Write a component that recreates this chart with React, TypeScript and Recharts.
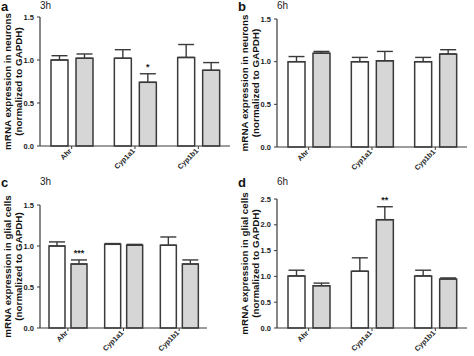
import React from "react";
import { BarChart, Bar, XAxis, YAxis, ErrorBar, LabelList } from "recharts";

const genes = ["Ahr", "Cyp1a1", "Cyp1b1"];

// panel a: neurons 3h
const aCtrl = [1.0, 1.02, 1.03];
const aCtrlErr = [0.05, 0.1, 0.15];
const aTreat = [1.02, 0.74, 0.88];
const aTreatErr = [0.05, 0.1, 0.09];
const aSig = ["", "*", ""];

// panel b: neurons 6h
const bCtrl = [1.0, 1.0, 1.0];
const bCtrlErr = [0.06, 0.05, 0.05];
const bTreat = [1.1, 1.01, 1.09];
const bTreatErr = [0.02, 0.11, 0.05];
const bSig = ["", "", ""];

// panel c: glial cells 3h
const cCtrl = [1.0, 1.02, 1.01];
const cCtrlErr = [0.05, 0.01, 0.1];
const cTreat = [0.78, 1.01, 0.78];
const cTreatErr = [0.05, 0.01, 0.05];
const cSig = ["***", "", ""];

// panel d: glial cells 6h
const dCtrl = [1.01, 1.1, 1.01];
const dCtrlErr = [0.11, 0.26, 0.11];
const dTreat = [0.82, 2.1, 0.95];
const dTreatErr = [0.05, 0.25, 0.02];
const dSig = ["", "**", ""];

const ticks15 = [0, 0.5, 1.0, 1.5];
const ticks25 = [0, 0.5, 1.0, 1.5, 2.0, 2.5];

const FONT = "'Liberation Sans', Arial, sans-serif";
const INK = "#3a3a3a";

const build = (ctrl: number[], ce: number[], treat: number[], te: number[], sig: string[]) =>
  genes.map((g, i) => ({
    gene: g,
    ctrl: ctrl[i],
    ctrlErr: [0, ce[i]],
    treat: treat[i],
    treatErr: [0, te[i]],
    treatE: te[i],
    sig: sig[i],
  }));

const XTick = (props: any) => {
  const { x, y, payload } = props;
  return (
    <g transform={`translate(${x - 1},${y - 1})`}>
      <text
        transform="rotate(-45)"
        textAnchor="end"
        fontSize={7.2}
        fontWeight="bold"
        fontFamily={FONT}
        fill="#222"
        dy={2}
      >
        {payload.value}
      </text>
    </g>
  );
};

const YTick = (props: any) => {
  const { x, y, payload } = props;
  return (
    <text
      x={x - 1}
      y={y}
      dy={2.6}
      textAnchor="end"
      fontSize={7.5}
      fontWeight="bold"
      fontFamily={FONT}
      fill="#222"
    >
      {Number(payload.value).toFixed(1)}
    </text>
  );
};

const YLabel = ({ viewBox, line1 }: any) => {
  const cy = viewBox.y + viewBox.height / 2;
  return (
    <g fontFamily={FONT} fontWeight="bold" fontSize={9.8} fill="#111">
      <text transform={`translate(10.5,${cy}) rotate(-90)`} textAnchor="middle">
        {line1}
      </text>
      <text transform={`translate(21.5,${cy}) rotate(-90)`} textAnchor="middle">
        (normalized to GAPDH)
      </text>
    </g>
  );
};

type PanelProps = {
  left: number;
  top: number;
  width: number;
  letter: string;
  time: string;
  ylabel: string;
  data: any[];
  max: number;
  ticks: number[];
  barSize: number;
  barGap: number;
  plotTop: number;
  plotBottom: number;
};

const Panel = ({ left, top, width, letter, time, ylabel, data, max, ticks, barSize, barGap, plotTop, plotBottom }: PanelProps) => {
  const height = 178;
  const sigLabel = (props: any) => {
    const { x, y, width: w, height: h, index } = props;
    const d = data[index];
    if (!d.sig) return null;
    const perUnit = h / d.treat;
    const yTop = y - d.treatE * perUnit;
    return (
      <text x={x + w / 2} y={yTop - 4} textAnchor="middle" fontSize={9} fontWeight="bold" fontFamily={FONT} fill="#222">
        {d.sig}
      </text>
    );
  };
  return (
    <div style={{ position: "absolute", left, top, width, height }}>
      <BarChart
        width={width}
        height={height}
        data={data}
        margin={{ top: plotTop, right: 7, left: 0, bottom: 0 }}
        barSize={barSize}
        barGap={barGap}
      >
        <XAxis
          dataKey="gene"
          height={height - plotBottom}
          axisLine={{ stroke: INK, strokeWidth: 1.2 }}
          tickLine={{ stroke: INK }}
          tickSize={3}
          tick={<XTick />}
          interval={0}
        />
        <YAxis
          width={40}
          domain={[0, max]}
          ticks={ticks}
          axisLine={{ stroke: INK, strokeWidth: 1.2 }}
          tickLine={{ stroke: INK }}
          tickSize={3}
          tick={<YTick />}
          label={<YLabel line1={ylabel} />}
        />
        <Bar dataKey="ctrl" fill="#ffffff" stroke={INK} strokeWidth={1.5} isAnimationActive={false}>
          <ErrorBar dataKey="ctrlErr" width={8} stroke={INK} strokeWidth={1.4} direction="y" />
        </Bar>
        <Bar dataKey="treat" fill="#d6d6d6" stroke={INK} strokeWidth={1.5} isAnimationActive={false}>
          <ErrorBar dataKey="treatErr" width={8} stroke={INK} strokeWidth={1.4} direction="y" />
          <LabelList dataKey="sig" content={sigLabel} />
        </Bar>
      </BarChart>
      <div style={{ position: "absolute", left: 1, top: 0, fontFamily: FONT, fontWeight: "bold", fontSize: 13, lineHeight: "13px", color: "#111" }}>
        {letter}
      </div>
      <div style={{ position: "absolute", left: 40, top: 1, fontFamily: FONT, fontSize: 10, lineHeight: "10px", color: "#222" }}>
        {time}
      </div>
    </div>
  );
};

export default function App() {
  return (
    <div style={{ position: "absolute", left: 0, top: 0, width: 474, height: 356, background: "#fff", overflow: "hidden" }}>
      <Panel
        left={0}
        top={0}
        width={237}
        letter="a"
        time="3h"
        ylabel="mRNA expression in neurons"
        data={build(aCtrl, aCtrlErr, aTreat, aTreatErr, aSig)}
        max={1.5}
        ticks={ticks15}
        barSize={17}
        barGap={8}
        plotTop={17}
        plotBottom={146}
      />
      <Panel
        left={237}
        top={0}
        width={237}
        letter="b"
        time="6h"
        ylabel="mRNA expression in neurons"
        data={build(bCtrl, bCtrlErr, bTreat, bTreatErr, bSig)}
        max={1.5}
        ticks={ticks15}
        barSize={17}
        barGap={8}
        plotTop={19}
        plotBottom={147}
      />
      <Panel
        left={0}
        top={176}
        width={214}
        letter="c"
        time="3h"
        ylabel="mRNA expression in glial cells"
        data={build(cCtrl, cCtrlErr, cTreat, cTreatErr, cSig)}
        max={1.5}
        ticks={ticks15}
        barSize={16}
        barGap={6}
        plotTop={29}
        plotBottom={152}
      />
      <Panel
        left={237}
        top={176}
        width={237}
        letter="d"
        time="6h"
        ylabel="mRNA expression in glial cells"
        data={build(dCtrl, dCtrlErr, dTreat, dTreatErr, dSig)}
        max={2.5}
        ticks={ticks25}
        barSize={17}
        barGap={8}
        plotTop={23}
        plotBottom={152}
      />
    </div>
  );
}
